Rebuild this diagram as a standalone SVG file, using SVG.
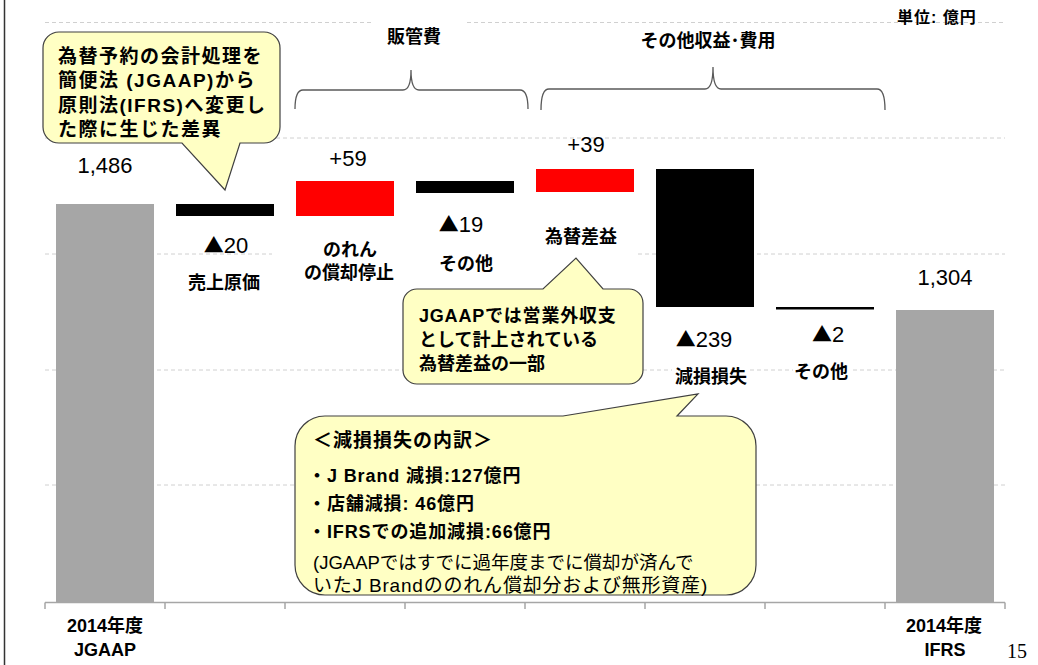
<svg xmlns="http://www.w3.org/2000/svg" width="1038" height="665" viewBox="0 0 1038 665">
<style>
text{font-family:"Liberation Sans","Noto Sans CJK JP",sans-serif;fill:#000}
.num{font-size:22px;text-anchor:middle}
.tri{font-family:"Noto Sans CJK JP",sans-serif;font-size:20px}
.lbl{font-size:18px;font-weight:bold;text-anchor:middle}
.grid{stroke:#d0d0d0;stroke-width:1;stroke-dasharray:4 3;fill:none}
.axis{stroke:#a6a6a6;stroke-width:1.5;fill:none}
.brace{stroke:#595959;stroke-width:1.3;fill:none}
.callout{fill:#ffffc4;stroke:#404040;stroke-width:1.2}
.ct{font-size:18px;font-weight:bold}
.bl{font-size:18px;font-weight:bold;letter-spacing:0.9px}
.c1{font-size:19px;font-weight:bold;letter-spacing:1.5px}
.gray{fill:#a6a6a6}
.red{fill:#ff0000}
.blk{fill:#000}
</style>
<rect width="1038" height="665" fill="#fff"/>
<line x1="4.5" y1="0" x2="4.5" y2="665" stroke="#333" stroke-width="1.5"/>
<g id="grid">
<path class="grid" d="M45 22.5H372M467 22.5H1005M45 138H1005M45 254H272M638 254H1005M45 370H403M643 370H672M750 370H793M853 370H1005M45 485H295M756 485H1005"/>
</g>
<g id="axis">
<path class="axis" d="M45 602.5H1005M45 602.5V609M165 602.5V609M285 602.5V609M405 602.5V609M525 602.5V609M645 602.5V609M765 602.5V609M885 602.5V609M1005 602.5V609"/>
</g>
<g id="connectors">
<path class="brace" d="M295 109Q295 90 303 90H403Q411 90 411 70Q411 90 419 90H520Q528 90 528 109"/>
<path class="brace" d="M541 110Q541 89 549 89H705Q713 89 713 67Q713 89 721 89H877Q885 89 885 110"/>
</g>
<text x="897" y="23" style="font-size:16px;font-weight:bold;letter-spacing:1px">単位: 億円</text>
<text class="lbl" x="414" y="43">販管費</text>
<text class="lbl" x="708" y="47">その他収益<tspan>･</tspan>費用</text>
<g id="bar-jgaap">
<rect class="gray" x="56" y="204" width="98" height="398"/>
<text class="num" x="105" y="173">1,486</text>
<text class="lbl" x="105" y="632">2014年度</text>
<text class="lbl" x="105" y="656">JGAAP</text>
</g>
<g id="bar-cogs">
<rect class="blk" x="176" y="204" width="98" height="12"/>
<text class="num" x="226" y="253"><tspan class="tri">▲</tspan>20</text>
<text class="lbl" x="224" y="289">売上原価</text>
</g>
<g id="bar-goodwill">
<rect class="red" x="296" y="181" width="98" height="35"/>
<text class="num" x="348" y="166">+59</text>
<text class="lbl" x="350" y="256">のれん</text>
<text class="lbl" x="349" y="279">の償却停止</text>
</g>
<g id="bar-sga-other">
<rect class="blk" x="416" y="181" width="98" height="12"/>
<text class="num" x="461" y="232"><tspan class="tri">▲</tspan>19</text>
<text class="lbl" x="466" y="270">その他</text>
</g>
<g id="bar-fx">
<rect class="red" x="536" y="169" width="98" height="23"/>
<text class="num" x="586" y="152">+39</text>
<text class="lbl" x="581" y="243">為替差益</text>
</g>
<g id="bar-impairment">
<rect class="blk" x="656" y="169" width="98" height="138"/>
<text class="num" x="704" y="347"><tspan class="tri">▲</tspan>239</text>
<text class="lbl" x="711" y="383">減損損失</text>
</g>
<g id="bar-other">
<rect class="blk" x="776" y="307" width="98" height="2.5"/>
<text class="num" x="828" y="342"><tspan class="tri">▲</tspan>2</text>
<text class="lbl" x="821" y="378">その他</text>
</g>
<g id="bar-ifrs">
<rect class="gray" x="896" y="310" width="98" height="292"/>
<text class="num" x="945" y="285">1,304</text>
<text class="lbl" x="944" y="632">2014年度</text>
<text class="lbl" x="945" y="656">IFRS</text>
</g>
<g id="callout-fx-contract">
<path class="callout" d="M59 32H264A16 16 0 0 1 280 48V127A16 16 0 0 1 264 143H240L225 190L182 143H59A16 16 0 0 1 43 127V48A16 16 0 0 1 59 32Z"/>
<text class="c1" x="58" y="63">為替予約の会計処理を</text>
<text class="c1" x="58" y="87">簡便法 (JGAAP)から</text>
<text class="c1" x="58" y="112">原則法(IFRS)へ変更し</text>
<text class="c1" x="58" y="136">た際に生じた差異</text>
</g>
<g id="callout-fx-gain">
<path class="callout" d="M417 289H543L576 258L603 289H629A14 14 0 0 1 643 303V370A14 14 0 0 1 629 384H417A14 14 0 0 1 403 370V303A14 14 0 0 1 417 289Z"/>
<text class="ct" x="419" y="322" style="letter-spacing:0.8px">JGAAPでは営業外収支</text>
<text class="ct" x="419" y="346">として計上されている</text>
<text class="ct" x="419" y="370">為替差益の一部</text>
</g>
<g id="callout-impairment">
<path class="callout" d="M325 416H563L698 394L677 416H726A30 30 0 0 1 756 446V565A30 30 0 0 1 726 595H325A30 30 0 0 1 295 565V446A30 30 0 0 1 325 416Z"/>
<text class="ct" x="313" y="447" style="font-size:19px;letter-spacing:1px">＜減損損失の内訳＞</text>
<text class="bl" x="308" y="482">・J Brand 減損:127億円</text>
<text class="bl" x="308" y="510">・店舗減損: 46億円</text>
<text class="bl" x="308" y="538">・IFRSでの追加減損:66億円</text>
<text x="313" y="569" style="font-size:18.5px">(JGAAPではすでに過年度までに償却が済んで</text>
<text x="313" y="592" style="font-size:19px;letter-spacing:0.8px">いたJ Brandののれん償却分および無形資産)</text>
</g>
<text x="1007" y="658" style="font-family:'Liberation Serif',serif;font-size:20px">15</text>
</svg>
